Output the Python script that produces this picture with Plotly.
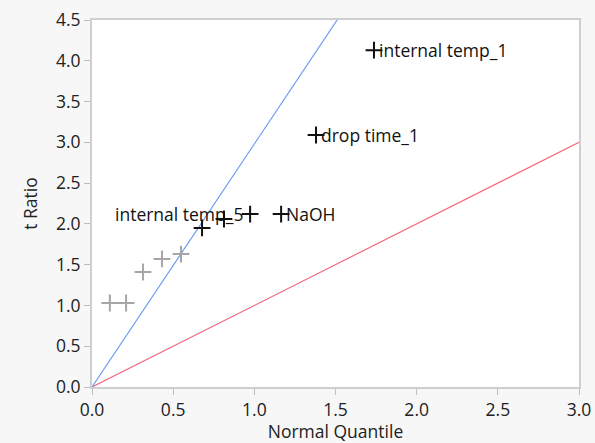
import plotly.graph_objects as go

# Half-normal plot of effect t ratios
quantile = [0.11, 0.21, 0.314, 0.431, 0.548, 0.678, 0.813, 0.974, 1.165, 1.38, 1.737]
t_ratio = [1.03, 1.03, 1.41, 1.57, 1.63, 1.95, 2.06, 2.12, 2.12, 3.09, 4.13]
active = [False, False, False, False, False, True, True, True, True, True, True]
labels = ["", "", "", "", "", "", "", "", "NaOH", "drop time_1", "internal temp_1"]

# reference lines through the origin
blue_slope = 2.98
red_slope = 1.0
x_line = [0.0, 3.0]

font_family = "Open Sans, Noto Sans, sans-serif"
fsize = 17.5

fig = go.Figure()

fig.add_trace(go.Scatter(
    x=x_line, y=[v * red_slope for v in x_line], mode="lines",
    line=dict(color="#f26d7d", width=1.2), hoverinfo="skip", showlegend=False))
fig.add_trace(go.Scatter(
    x=x_line, y=[v * blue_slope for v in x_line], mode="lines",
    line=dict(color="#6f9cf0", width=1.2), hoverinfo="skip", showlegend=False))

gx = [q for q, a in zip(quantile, active) if not a]
gy = [t for t, a in zip(t_ratio, active) if not a]
fig.add_trace(go.Scatter(
    x=gx, y=gy, mode="markers",
    marker=dict(symbol="cross-thin", size=12, line=dict(color="#a6a6a6", width=2)),
    showlegend=False))

ax = [q for q, a in zip(quantile, active) if a]
ay = [t for t, a in zip(t_ratio, active) if a]
fig.add_trace(go.Scatter(
    x=ax, y=ay, mode="markers",
    marker=dict(symbol="cross-thin", size=12, line=dict(color="#111111", width=2)),
    showlegend=False))

for q, t, lab in zip(quantile, t_ratio, labels):
    if lab:
        fig.add_annotation(x=q, y=t, text=lab, showarrow=False, xanchor="left",
                           xshift=3, yshift=0,
                           font=dict(family=font_family, size=fsize, color="#111111"))

# label placed to the left of its cluster
fig.add_annotation(x=0.945, y=2.12, text="internal temp_5", showarrow=False,
                   xanchor="right", font=dict(family=font_family, size=fsize, color="#111111"))

axis_common = dict(
    showgrid=False, zeroline=False, showline=True, linecolor="#cfcfcf", linewidth=2,
    mirror=True, ticks="outside", ticklen=6, tickcolor="#bdbdbd", tickwidth=1,
    automargin=False,
    tickfont=dict(family=font_family, size=fsize, color="#222222"),
)

fig.update_xaxes(range=[0, 3], tickvals=[0, 0.5, 1, 1.5, 2, 2.5, 3],
                 ticktext=["0.0", "0.5", "1.0", "1.5", "2.0", "2.5", "3.0"],
                 title=dict(text="Normal Quantile", standoff=2,
                            font=dict(family=font_family, size=fsize, color="#222222")),
                 **axis_common)
fig.update_yaxes(range=[0, 4.5], tickvals=[0, 0.5, 1, 1.5, 2, 2.5, 3, 3.5, 4, 4.5],
                 ticktext=["0.0", "0.5", "1.0", "1.5", "2.0", "2.5", "3.0", "3.5", "4.0", "4.5"],
                 title=dict(text="t Ratio", standoff=14,
                            font=dict(family=font_family, size=fsize, color="#222222")),
                 **axis_common)

fig.update_layout(
    width=595, height=443,
    margin=dict(l=92, r=16, t=20, b=56),
    paper_bgcolor="#f7f7f7", plot_bgcolor="#ffffff",
)

fig.write_html("out.html")
